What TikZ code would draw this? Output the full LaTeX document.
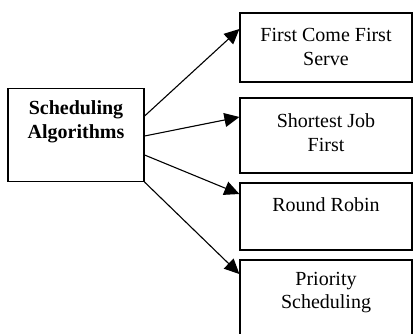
\documentclass[tikz,border=0pt]{standalone}
\usepackage{fontspec}
\setmainfont{Liberation Serif}
\usetikzlibrary{arrows.meta}
\begin{document}
\begin{tikzpicture}[x=1pt,y=-1pt,
  box/.style={draw,line width=1.2pt,inner sep=0pt},
  lbl/.style={align=center,font=\fontsize{20}{23.5}\selectfont,inner sep=0pt},
  arr/.style={line width=1.1pt,-{Triangle[length=15pt,width=14pt]}}]
\useasboundingbox (0,0) rectangle (413,333);
\clip (0,0) rectangle (413,333);
% boxes
\node[box,minimum width=136pt,minimum height=93pt] (sa) at (76,135) {};
\node[box,minimum width=172pt,minimum height=69pt] (b1) at (326,47.5) {};
\node[box,minimum width=172pt,minimum height=75pt] (b2) at (326,135.5) {};
\node[box,minimum width=172pt,minimum height=67pt] (b3) at (326,216.5) {};
\node[box,minimum width=172pt,minimum height=90pt] (b4) at (326,305) {};
% labels
\node[lbl,font=\fontsize{20}{23.5}\selectfont\bfseries] (tsa) at (76,122) {Scheduling\\Algorithms};
\node[lbl] (t1) at (326,47) {First Come First\\Serve};
\node[lbl] (t2) at (326,132.5) {Shortest Job\\First};
\node[lbl] (t3) at (326,205) {Round Robin};
\node[lbl] (t4) at (326,292.5) {Priority\\Scheduling};
% connectors
\coordinate (s1) at ([yshift=19pt]sa.east);
\coordinate (s2) at ([yshift=-1pt]sa.east);
\coordinate (s3) at ([yshift=-20pt]sa.east);
\coordinate (e1) at ([yshift=18.5pt]b1.west);
\coordinate (e2) at ([yshift=18.5pt]b2.west);
\coordinate (e3) at ([yshift=22.5pt]b3.west);
\coordinate (e4) at ([yshift=31pt]b4.west);
\draw[arr] (s1) -- (e1);
\draw[arr] (s2) -- (e2);
\draw[arr] (s3) -- (e3);
\draw[arr] (sa.south east) -- (e4);
\end{tikzpicture}
\end{document}
